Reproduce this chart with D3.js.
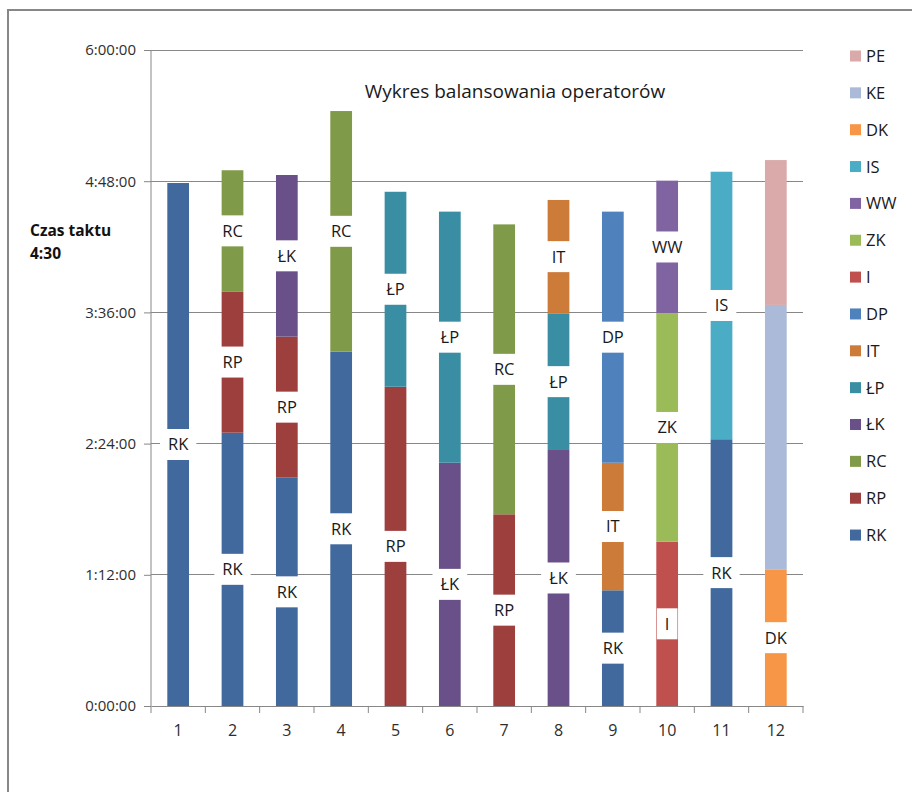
<!DOCTYPE html>
<html>
<head>
<meta charset="utf-8">
<script src="https://cdn.jsdelivr.net/npm/d3@7"></script>
<style>
  html, body { margin: 0; padding: 0; background: #fff; }
  svg { display: block; }
  text { font-family: "Open Sans", "Noto Sans", sans-serif; }
</style>
</head>
<body>
<svg id="chart" width="912" height="792"></svg>
<script>
// Operators (x categories)
const categories = ["1", "2", "3", "4", "5", "6", "7", "8", "9", "10", "11", "12"];

// Work elements in stacking order (bottom to top)
const seriesNames = ["RK", "RP", "RC", "ŁK", "ŁP", "IT", "DP", "I", "ZK", "WW", "IS", "DK", "KE", "PE"];
const seriesColors = ["#41699d", "#9d3f3d", "#7f9a48", "#6a5088", "#3a8ea3", "#cc7b38",
                      "#4f81bd", "#c0504d", "#9bbb59", "#8064a2", "#4bacc6", "#f79646",
                      "#aabad8", "#d9aaa9"];
// Elements that carry a data label on the bars
const labelledSeries = ["RK", "RP", "RC", "ŁK", "ŁP", "IT", "DP", "I", "ZK", "WW", "IS", "DK"];

// Element durations per operator, in minutes
const RK = [287, 150, 125.3, 194.5, 0, 0, 0, 0, 63.5, 0, 146.4, 0];
const RP = [0, 77.5, 77.4, 0, 175.2, 0, 105.2, 0, 0, 0, 0, 0];
const RC = [0, 66.5, 0, 132, 0, 0, 159.1, 0, 0, 0, 0, 0];
const LK = [0, 0, 88.7, 0, 0, 133.5, 0, 140.5, 0, 0, 0, 0];
const LP = [0, 0, 0, 0, 107, 137.8, 0, 75, 0, 0, 0, 0];
const IT = [0, 0, 0, 0, 0, 0, 0, 62.2, 70, 0, 0, 0];
const DP = [0, 0, 0, 0, 0, 0, 0, 0, 137.8, 0, 0, 0];
const I  = [0, 0, 0, 0, 0, 0, 0, 0, 0, 90.2, 0, 0];
const ZK = [0, 0, 0, 0, 0, 0, 0, 0, 0, 125.3, 0, 0];
const WW = [0, 0, 0, 0, 0, 0, 0, 0, 0, 72.8, 0, 0];
const IS = [0, 0, 0, 0, 0, 0, 0, 0, 0, 0, 146.8, 0];
const DK = [0, 0, 0, 0, 0, 0, 0, 0, 0, 0, 0, 75];
const KE = [0, 0, 0, 0, 0, 0, 0, 0, 0, 0, 0, 145.1];
const PE = [0, 0, 0, 0, 0, 0, 0, 0, 0, 0, 0, 79.5];

// Y axis ticks in minutes (every 1:12:00)
const yTicks = [0, 72, 144, 216, 288, 360];

const chartTitle = "Wykres balansowania operatorów";
const taktLines = ["Czas taktu", "4:30"];

const seriesValues = [RK, RP, RC, LK, LP, IT, DP, I, ZK, WW, IS, DK, KE, PE];

const rows = categories.map((c, i) => {
  const r = { cat: c };
  seriesNames.forEach((s, k) => { r[s] = seriesValues[k][i]; });
  return r;
});

const svg = d3.select("#chart");
const W = 912, H = 792;
const plot = { left: 151, right: 803, top: 50, bottom: 706 };

// Outer chart frame
svg.append("rect")
  .attr("x", 8).attr("y", 10)
  .attr("width", W + 20).attr("height", H + 20)
  .attr("fill", "#fff").attr("stroke", "#878787").attr("stroke-width", 2);

const x = d3.scaleBand().domain(categories).range([plot.left, plot.right]).paddingInner(0).paddingOuter(0);
const y = d3.scaleLinear().domain([0, 360]).range([plot.bottom, plot.top]);
const color = d3.scaleOrdinal().domain(seriesNames).range(seriesColors);

const fmt = m => {
  const h = Math.floor(m / 60), mm = Math.round(m % 60);
  return `${h}:${String(mm).padStart(2, "0")}:00`;
};

// Gridlines
svg.append("g").selectAll("line")
  .data(yTicks.filter(t => t > 0))
  .join("line")
  .attr("x1", plot.left).attr("x2", plot.right)
  .attr("y1", d => y(d)).attr("y2", d => y(d))
  .attr("stroke", "#878787").attr("stroke-width", 1)
  .attr("shape-rendering", "crispEdges");

// Y axis
const yAxis = svg.append("g")
  .attr("transform", `translate(${plot.left},0)`)
  .call(d3.axisLeft(y).tickValues(yTicks).tickFormat(fmt).tickSize(7).tickPadding(8));
yAxis.select(".domain").attr("stroke", "#878787").attr("d", `M-0,${plot.top}V${plot.bottom}`);
yAxis.selectAll(".tick line").attr("stroke", "#878787");
yAxis.selectAll("text").attr("font-size", 15).attr("fill", "#2e2e2e")
  .style("font-family", "'Open Sans', sans-serif");

// X axis (labels at category centres, tick marks at category boundaries)
const xAxis = svg.append("g")
  .attr("transform", `translate(0,${plot.bottom})`)
  .call(d3.axisBottom(x).tickSize(0).tickPadding(19));
xAxis.select(".domain").attr("stroke", "#878787");
xAxis.selectAll("text").attr("font-size", 16).attr("fill", "#2e2e2e")
  .style("font-family", "'Open Sans', sans-serif");
const bounds = categories.map(c => x(c)).concat([x(categories[categories.length - 1]) + x.bandwidth()]);
xAxis.selectAll(".bound")
  .data(bounds)
  .join("line")
  .attr("class", "bound")
  .attr("x1", d => d).attr("x2", d => d)
  .attr("y1", 0).attr("y2", 7)
  .attr("stroke", "#878787");

// Stacked bars
const stacked = d3.stack().keys(seriesNames)(rows);
const barW = x.bandwidth() / 2.5;
const barOff = (x.bandwidth() - barW) / 2;

const segs = [];
stacked.forEach(layer => {
  layer.forEach((d, i) => {
    if (d[1] - d[0] > 0) segs.push({ key: layer.key, cat: categories[i], y0: d[0], y1: d[1] });
  });
});

svg.append("g").selectAll("rect")
  .data(segs)
  .join("rect")
  .attr("x", d => x(d.cat) + barOff)
  .attr("width", barW)
  .attr("y", d => y(d.y1))
  .attr("height", d => y(d.y0) - y(d.y1))
  .attr("fill", d => color(d.key));

// Segment labels on white boxes
const lab = svg.append("g").selectAll("g")
  .data(segs.filter(d => labelledSeries.includes(d.key)))
  .join("g")
  .attr("transform", d => `translate(${x(d.cat) + x.bandwidth() / 2},${y((d.y0 + d.y1) / 2)})`);
lab.append("rect").attr("fill", "#fff");
lab.append("text")
  .attr("text-anchor", "middle")
  .attr("dy", "0.36em")
  .attr("font-size", 16.5)
  .attr("fill", "#1a1a1a")
  .text(d => d.key);
lab.each(function () {
  const g = d3.select(this);
  const w = g.select("text").node().getComputedTextLength();
  g.select("rect").attr("x", -w / 2 - 8).attr("width", w + 16).attr("y", -15.5).attr("height", 31);
});

// Title
svg.append("text")
  .attr("x", 515).attr("y", 98)
  .attr("text-anchor", "middle")
  .attr("font-size", 19)
  .attr("fill", "#1a1a1a")
  .text(chartTitle);

// Takt time annotation
svg.append("g").selectAll("text")
  .data(taktLines)
  .join("text")
  .attr("x", 30).attr("y", (d, i) => 236 + i * 23)
  .attr("font-size", 15.5).attr("font-weight", "bold")
  .attr("fill", "#111")
  .text(d => d);

// Legend (top entry is the last series)
const legend = svg.append("g").selectAll("g")
  .data(seriesNames.slice().reverse())
  .join("g")
  .attr("transform", (d, i) => `translate(850,${56 + i * 36.85})`);
legend.append("rect")
  .attr("x", 0).attr("y", -5.5).attr("width", 11).attr("height", 11)
  .attr("fill", d => color(d));
legend.append("text")
  .attr("x", 16).attr("dy", "0.36em")
  .attr("font-size", 16.5).attr("fill", "#1a1a1a")
  .text(d => d);
</script>
</body>
</html>
